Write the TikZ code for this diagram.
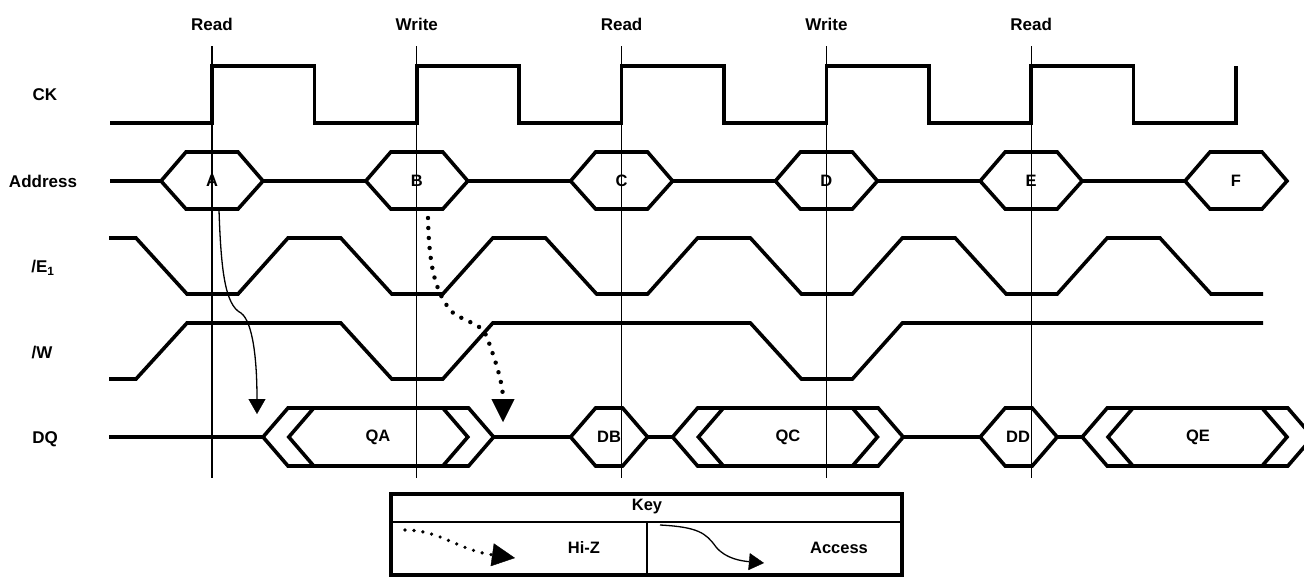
\documentclass[tikz,border=0pt]{standalone}
\usepackage{fontspec}
\setmainfont{Liberation Sans}
\usetikzlibrary{arrows.meta}
\begin{document}
\begin{tikzpicture}[x=1pt,y=-1pt,
  sig/.style={line width=3.6pt, line join=miter},
  refline/.style={line width=1.2pt},
  lbl/.style={font=\bfseries\fontsize{17}{19}\selectfont, inner sep=0pt},
  hexlbl/.style={font=\bfseries\fontsize{16.5}{18}\selectfont, inner sep=0pt},
  accessarrow/.style={line width=1.3pt, -{Triangle[width=17pt,length=15pt,line width=0.4pt]}},
  hizarrow/.style={line width=4.4pt, line cap=round, dash pattern=on 0pt off 10pt, -{Triangle[width=23pt,length=23pt,line width=0.4pt]}},
  hizkey/.style={line width=3.6pt, line cap=round, dash pattern=on 0pt off 9pt, -{Triangle[width=23pt,length=23pt,line width=0.4pt]}},
  keybox/.style={line width=3.6pt},
  keyline/.style={line width=2pt}]
\useasboundingbox (0,0) rectangle (1304,576);

% reference lines and labels
\foreach \x/\t [count=\i] in {212/Read,416.8/Write,621.6/Read,826.4/Write,1031.2/Read}{
  \node[lbl] (op\i) at (\x,24) {\t};
  \coordinate (rt\i) at (\x,46);
  \coordinate (rb\i) at (\x,478);
  \draw[refline] (rt\i) -- (rb\i);
}

% signal names
\node[lbl] (nCK) at (45,95) {CK};
\node[lbl] (nAd) at (43,181) {Address};
\node[lbl] (nE) at (43,268) {/E\textsubscript{1}};
\node[lbl] (nW) at (42,353) {/W};
\node[lbl] (nDQ) at (45,439) {DQ};

% CK
\draw[sig] (110,123) -- (212,123) -- (212,66) -- (314.4,66) -- (314.4,123)
  -- (416.8,123) -- (416.8,66) -- (519.2,66) -- (519.2,123)
  -- (621.6,123) -- (621.6,66) -- (724,66) -- (724,123)
  -- (826.4,123) -- (826.4,66) -- (928.8,66) -- (928.8,123)
  -- (1031.2,123) -- (1031.2,66) -- (1133.6,66) -- (1133.6,123)
  -- (1236,123) -- (1236,66);

% Address
\draw[sig] (110,181) -- (161,181);
\foreach \c/\t [count=\i] in {212/A,416.8/B,621.6/C,826.4/D,1031.2/E,1236/F}{
  \draw[sig] (\c-51,181) -- (\c-26,152) -- (\c+26,152) -- (\c+51,181) -- (\c+26,209) -- (\c-26,209) -- cycle;
  \node[hexlbl] (ad\i) at (\c,181) {\t};
}
\foreach \a/\b in {263/365.8,467.8/570.6,672.6/775.4,877.4/980.2,1082.2/1185}{
  \draw[sig] (\a,181) -- (\b,181);
}

% /E1
\draw[sig] (109,238) -- (136,238) -- (187,294) -- (238,294) -- (288,238)
  -- (340.8,238) -- (391.8,294) -- (442.8,294) -- (492.8,238)
  -- (545.6,238) -- (596.6,294) -- (647.6,294) -- (697.6,238)
  -- (750.4,238) -- (801.4,294) -- (852.4,294) -- (902.4,238)
  -- (955.2,238) -- (1006.2,294) -- (1057.2,294) -- (1107.2,238)
  -- (1160,238) -- (1211,294) -- (1263,294);

% /W
\draw[sig] (109,379) -- (136,379) -- (187,323) -- (340.8,323) -- (391.8,379)
  -- (442.8,379) -- (492.8,323) -- (750.4,323) -- (801.4,379)
  -- (852.4,379) -- (902.4,323) -- (1263,323);

% DQ
\draw[sig] (109,437) -- (263,437);
\foreach \l/\r in {263/467.8,288.8/493.6,672.6/877.4,698.4/903.2,1082.2/1287,1108/1312.8,570.6/647.6,980.2/1057.2}{
  \draw[sig] (\l,437) -- (\l+25,408) -- (\r-25,408) -- (\r,437) -- (\r-25,466) -- (\l+25,466) -- cycle;
}
\draw[sig] (493.6,437) -- (570.6,437);
\draw[sig] (647.6,437) -- (672.6,437);
\draw[sig] (903.2,437) -- (980.2,437);
\draw[sig] (1057.2,437) -- (1082.2,437);
\node[hexlbl] (qa) at (378,437) {QA};
\node[hexlbl] (db) at (609,437) {DB};
\node[hexlbl] (qc) at (788,437) {QC};
\node[hexlbl] (dd) at (1018,437) {DD};
\node[hexlbl] (qe) at (1198,437) {QE};

% Access arrow
\coordinate (accS) at (219,210);
\coordinate (accM) at (241,313);
\coordinate (accE) at (257,414);
\draw[accessarrow] (accS) .. controls (221,270) and (225,305) .. (accM)
  .. controls (253,322) and (257,360) .. (accE);

% Hi-Z arrow
\coordinate (hzS) at (428,218);
\coordinate (hzM1) at (452,312);
\coordinate (hzM2) at (488,340);
\coordinate (hzE) at (503,422);
\draw[hizarrow] (hzS) .. controls (429,262) and (434,292) .. (hzM1)
  .. controls (470,325) and (482,322) .. (hzM2)
  .. controls (497,365) and (503,385) .. (hzE);

% Key box
\draw[keybox] (391,494) rectangle (902,575);
\draw[keyline] (391,522) -- (902,522);
\draw[keyline] (647,522) -- (647,575);
\node[hexlbl] (key) at (647,507) {Key};
\node[hexlbl] (hiz) at (584,548) {Hi-Z};
\node[hexlbl] (acc) at (839,548) {Access};
\coordinate (khS) at (405,530);
\coordinate (khE) at (515,558);
\draw[hizkey] (khS) .. controls (440,530) and (458,550) .. (khE);
\coordinate (kaS) at (660,525);
\coordinate (kaM) at (716,547);
\coordinate (kaE) at (764,563);
\draw[accessarrow] (kaS) .. controls (698,527) and (706,533) .. (kaM)
  .. controls (726,559) and (742,561) .. (kaE);
\end{tikzpicture}
\end{document}
